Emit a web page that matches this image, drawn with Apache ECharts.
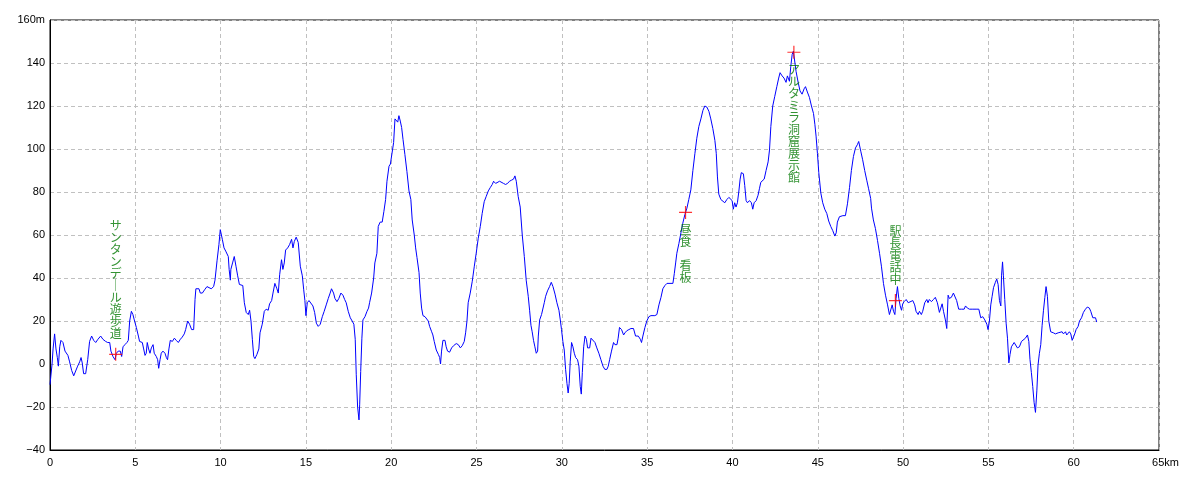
<!DOCTYPE html>
<html>
<head>
<meta charset="utf-8">
<script src="https://cdn.jsdelivr.net/npm/echarts@6/dist/echarts.min.js"></script>
<style>
html,body{margin:0;padding:0;background:#fff;}
#c{width:1200px;height:480px;}
</style>
</head>
<body>
<div id="c"></div>
<script>
// Elevation profile: [distance km, elevation m]
const profile = [
[0,-9.6],[0.12,0],[0.18,7],[0.27,14],[0.35,7],[0.43,3],[0.49,-1],[0.57,8],[0.64,11],[0.76,10],[0.88,6],[1.05,4],[1.15,1],[1.27,-3],[1.39,-5.5],[1.5,-5.5],[1.62,-1],[1.74,1],[1.82,3],[1.89,0.5],[1.97,-4.5],[2.09,-4.5],[2.21,2],[2.32,10.5],[2.44,13],[2.56,11],[2.68,10],[2.81,11.5],[2.97,13],[3.1,11.5],[3.26,10.5],[3.38,10],[3.5,10],[3.57,6],[3.69,3.5],[3.81,2],[3.89,5],[4.0,6],[4.12,6],[4.2,3.5],[4.28,8],[4.39,9],[4.51,10],[4.59,11],[4.67,20],[4.77,24.5],[4.86,23],[4.94,20.5],[5.06,17],[5.18,13],[5.25,10.5],[5.41,10],[5.49,7],[5.57,4],[5.64,5],[5.7,10],[5.78,7],[5.86,5],[5.94,7.5],[6.04,9],[6.11,5],[6.23,3.5],[6.31,2],[6.37,-2],[6.45,2],[6.52,5],[6.62,6],[6.74,5],[6.82,3],[6.89,2],[6.97,7],[7.05,11],[7.17,10.5],[7.29,12],[7.4,11],[7.52,10],[7.64,11.5],[7.75,12.5],[7.87,14],[7.95,16],[8.07,20],[8.18,18.5],[8.3,16],[8.42,16],[8.5,30],[8.55,35],
[8.73,35],[8.81,33],[8.93,33],[9.06,34.5],[9.2,36],[9.31,36],[9.45,35],[9.59,36],[9.67,39],[9.79,48],[9.9,55.5],[9.98,62.5],[10.04,62.5],[10.1,58],[10.2,54],[10.3,52.5],[10.45,50],[10.5,44],[10.57,39],[10.6,44],[10.7,47],[10.8,50],[10.9,45.5],[11.0,41],[11.1,37],[11.3,36.5],[11.39,28.5],[11.5,24],[11.62,23],[11.7,25],[11.78,20],[11.86,11.5],[11.94,3.5],[12.01,2.5],[12.13,4.5],[12.24,7],[12.31,14.5],[12.44,18.5],[12.56,24.5],[12.67,25.5],[12.79,25],[12.87,28],[12.99,29.5],[13.07,33],[13.18,37.5],[13.3,35],[13.38,33],[13.46,41.5],[13.57,48.5],[13.65,44],[13.73,47],[13.81,53],[13.93,54],[14.04,55.5],[14.16,58],[14.24,54],[14.32,57],[14.43,59],[14.55,56.5],[14.67,45.5],[14.79,41],[14.87,34.5],[14.94,29.5],[15.0,22.5],[15.08,28.5],[15.18,29.5],[15.29,30],[15.41,27],[15.51,24],[15.61,19],[15.72,17.5],[15.84,18.5],[15.96,22],[16.07,24.5],[16.19,27.5],[16.31,30.5],[16.42,33],[16.5,35],[16.62,33],[16.7,30.5],[16.82,29],[16.93,30.5],[17.05,33],[17.17,32],[17.27,30],[17.36,28.5],[17.48,24.5],[17.6,21.5],[17.71,20],[17.81,18.5],[17.89,11.5],[17.95,-5],[18.03,-20],[18.11,-26],[18.15,-19],[18.21,-3.5],[18.28,12],[18.34,20.5],[18.46,22],[18.58,24.5],[18.67,26],[18.73,28.5],
[18.85,33],[18.97,40],[19.04,47],[19.16,51.5],[19.24,64],[19.35,66],[19.47,66],[19.57,71],[19.67,76.5],[19.75,85],[19.87,92],[19.95,93],[20.06,93.5],[20.14,103],[20.22,114],[20.3,114.5],[20.38,112.5],[20.45,115.5],[20.53,113],[20.61,110],[20.69,104.5],[20.8,97.5],[20.92,89.5],[21.04,80.5],[21.15,76.5],[21.23,67],[21.35,60],[21.43,54],[21.51,49.5],[21.63,42.5],[21.7,33],[21.78,26],[21.86,22.5],[21.98,22],[22.09,22],[22.17,20],[22.25,17.5],[22.37,15],[22.44,13.5],[22.52,10.5],[22.64,6.5],[22.76,4.5],[22.84,3],[22.89,0],[22.95,6],[23.03,11],[23.15,11],[23.22,8],[23.3,6],[23.42,5.5],[23.54,7.5],[23.65,8.5],[23.81,9.5],[23.93,9],[24.05,7.5],[24.16,8.5],[24.28,10.5],[24.36,14.5],[24.44,20],[24.51,28.5],[24.63,33],[24.75,38.5],[24.87,45.5],[24.98,51.5],[25.1,58.5],[25.22,64],[25.33,70],[25.45,75.5],[25.57,78],[25.69,80.5],[25.8,82],[25.92,83.5],[26.0,85],[26.12,84],[26.23,84.5],[26.35,85],[26.46,85.5],[26.58,84],[26.7,83.5],[26.82,84],[26.93,85],[27.05,85.5],[27.17,86],[27.25,87.5],[27.33,85],[27.44,78],[27.56,73],[27.68,60],[27.8,50],[27.91,39],[28.03,31.5],[28.11,25],[28.19,18],[28.26,15],[28.34,11],[28.42,8],[28.5,5],[28.58,6],[28.62,13],[28.7,20.5],
[28.81,23],[28.89,23.5],[28.97,28.5],[29.05,31.5],[29.16,34],[29.28,36],[29.38,38],[29.48,36],[29.6,32.5],[29.71,28.5],[29.83,25],[29.91,20.5],[29.98,16],[30.06,10.5],[30.14,6.5],[30.22,-2.5],[30.3,-9],[30.37,-13.5],[30.43,-9],[30.49,1],[30.57,10],[30.65,8],[30.73,5],[30.81,3],[30.92,2],[31.0,-1],[31.08,-10.5],[31.14,-14],[31.2,-4],[31.28,8],[31.36,13],[31.44,11.5],[31.51,7.5],[31.63,7.5],[31.71,12],[31.82,12],[31.94,10],[32.05,7.5],[32.17,5],[32.29,2],[32.41,-1],[32.52,-2.5],[32.64,-2.5],[32.72,-1],[32.8,2],[32.91,6],[33.03,10],[33.11,9],[33.23,9],[33.3,12],[33.38,17],[33.5,16],[33.62,13.5],[33.7,14.5],[33.81,15.5],[33.93,16],[34.05,16.5],[34.2,16.5],[34.32,13],[34.48,13],[34.6,11.5],[34.67,10],[34.75,13],[34.87,17],[34.98,20],[35.1,22],[35.22,22.5],[35.45,22.5],[35.57,23],[35.69,27.5],[35.81,31],[35.92,35],[36.04,36.5],[36.16,37.5],[36.51,37.5],[36.59,42],[36.67,47],[36.74,51.5],[36.86,56],[36.98,61],[37.09,65.5],[37.21,69.5],[37.33,72.5],[37.44,76.5],[37.56,81],[37.68,90],[37.8,98],[37.91,105],[38.03,110.5],[38.15,114],[38.27,118],[38.38,120],[38.5,119.5],
[38.62,117.5],[38.73,114],[38.85,109.5],[38.97,104],[39.05,98],[39.12,87],[39.2,79],[39.32,76.5],[39.43,76],[39.55,75],[39.67,76.5],[39.79,77.5],[39.9,77.5],[39.98,76],[40.05,72],[40.13,75],[40.21,73],[40.29,75],[40.37,80],[40.45,86],[40.52,89],[40.64,88.5],[40.72,83],[40.8,76],[40.88,75],[41.0,76],[41.11,75],[41.19,72],[41.27,75],[41.39,76],[41.5,78.5],[41.58,81.5],[41.66,84.5],[41.74,84],[41.86,86],[41.97,90],[42.09,94],[42.17,99.5],[42.25,110.5],[42.36,120],[42.48,124.5],[42.6,129],[42.71,133],[42.79,135.5],[42.91,134],[43.02,133],[43.14,131],[43.22,134],[43.34,131.5],[43.42,138.5],[43.5,144],[43.57,145.5],[43.65,145],[43.73,136],[43.85,131],[43.96,127],[44.08,125.5],[44.2,128],[44.28,129],[44.39,126.5],[44.51,124],[44.63,120],[44.75,116.5],[44.83,111.5],[44.9,106],[44.98,98],[45.06,89],[45.18,79.5],[45.29,75],[45.41,72],[45.53,70],[45.64,66.5],[45.76,64],[45.88,62],[46.0,59.5],[46.08,61],[46.15,66],[46.27,68.5],[46.47,69],[46.62,69],[46.74,74.5],[46.86,82],[46.97,90],[47.09,96.5],[47.21,100.5],[47.32,102],[47.4,103.5],[47.52,99],[47.63,95],[47.75,90],[47.87,85.5],[47.98,81.5],[48.1,77],
[48.15,72.5],[48.26,67],[48.38,63],[48.5,57.5],[48.62,51.5],[48.73,45.5],[48.85,37.5],[48.97,32],[49.09,27.5],[49.2,23],[49.28,23],[49.36,27.5],[49.44,24.5],[49.52,23],[49.59,30.5],[49.67,36],[49.75,30.5],[49.83,27],[49.91,25],[49.98,28],[50.06,29],[50.18,30],[50.3,28.5],[50.41,29],[50.57,29.5],[50.68,27.5],[50.76,24.5],[50.88,23],[50.96,24.5],[51.07,23],[51.15,24.5],[51.27,28.5],[51.39,30],[51.46,28.5],[51.54,30],[51.66,29],[51.78,30],[51.89,31],[52.01,28.5],[52.13,24],[52.21,23.5],[52.29,28],[52.37,24.5],[52.48,20.5],[52.56,16.5],[52.64,32],[52.71,30.5],[52.83,31],[52.95,33],[53.03,33],[53.14,29.5],[53.26,25.5],[53.42,25.5],[53.58,25.5],[53.66,27],[53.77,26],[53.89,25.5],[54.09,25.5],[54.28,25.5],[54.44,25.5],[54.55,21.5],[54.67,22],[54.79,20.5],[54.91,18.5],[54.98,16],[55.06,20],[55.14,27.5],[55.22,31.5],[55.3,35.5],[55.41,38],[55.49,39.5],[55.57,37],[55.65,29.5],[55.73,27],[55.77,41],[55.83,47.5],[55.88,41],[55.96,30],[56.04,19],[56.12,12],[56.2,0.5],[56.27,4.5],[56.35,8],[56.43,8],[56.51,10],[56.62,10.5],[56.7,7.5],[56.82,8],[56.94,10.5],[57.05,10.5],[57.17,12],[57.29,13.5],[57.37,10.5],[57.44,2],[57.52,-4],[57.6,-10.5],[57.68,-18],[57.76,-22.5],[57.84,-12.5],[57.91,-0.5],[57.99,5],[58.07,9],[58.15,18],[58.23,25],[58.31,31],[58.38,36],[58.46,31.5],[58.54,20],
[58.65,15],[58.81,14.5],[58.93,14],[59.01,13.5],[59.09,14.5],[59.2,15],[59.32,15],[59.4,14],[59.52,15],[59.59,13.5],[59.67,13],[59.75,15],[59.83,14],[59.91,11],[59.99,10.5],[60.06,14],[60.14,16],[60.26,17.5],[60.34,20],[60.46,21.5],[60.57,24],[60.69,25.5],[60.8,26.5],[60.92,26],[61.0,24.5],[61.12,21.5],[61.2,22],[61.28,21.5],[61.35,19.5]
];

// Waypoints
const waypointNames = ['サンタンデール遊歩道', '昼食　看板', 'アルタミラ洞窟展示館', '駅長電話中'];
const waypointKm = [3.85, 37.25, 43.6, 49.55];
const waypointM = [4.5, 70.5, 145, 29.5];
const waypointLabelPos = ['top', 'bottom', 'bottom', 'top'];

// Axis ticks
const xTicks = [0, 5, 10, 15, 20, 25, 30, 35, 40, 45, 50, 55, 60, 65];
const yTicks = [-40, -20, 0, 20, 40, 60, 80, 100, 120, 140, 160];

function verticalText(s) {
  return s.split('').map(ch => ch === 'ー' ? '｜' : ch).join('\n');
}

const chart = echarts.init(document.getElementById('c'), null, { renderer: 'canvas' });
const axisFont = { fontFamily: 'Liberation Sans', fontSize: 11, color: '#000' };

chart.setOption({
  animation: false,
  backgroundColor: '#fff',
  grid: { left: 50, right: 41, top: 20, bottom: 30, show: true, borderColor: '#000', borderWidth: 1, backgroundColor: 'transparent' },
  xAxis: {
    type: 'value', min: xTicks[0], max: xTicks[xTicks.length - 1], interval: 5,
    axisLine: { show: true, onZero: false, lineStyle: { color: '#000', width: 1 } },
    axisTick: { show: false },
    axisLabel: Object.assign({}, axisFont, {
      margin: 7,
      formatter: v => v === 65 ? '{u|65km}' : String(v),
      rich: { u: Object.assign({}, axisFont, { padding: [0, 0, 0, 13] }) }
    }),
    splitLine: { show: true, lineStyle: { color: '#c0c0c0', type: [4, 3], width: 1 } }
  },
  yAxis: {
    type: 'value', min: yTicks[0], max: yTicks[yTicks.length - 1], interval: 20,
    axisLine: { show: true, onZero: false, lineStyle: { color: '#000', width: 1 } },
    axisTick: { show: false },
    axisLabel: Object.assign({}, axisFont, {
      margin: 5,
      formatter: v => v === 160 ? '160m' : (v < 0 ? '\u2212' + Math.abs(v) : String(v))
    }),
    splitLine: { show: true, lineStyle: { color: '#c0c0c0', type: [4, 3], width: 1 } }
  },
  series: [
    {
      type: 'line',
      data: profile,
      showSymbol: false,
      symbol: 'none',
      lineStyle: { color: '#0000ff', width: 1 },
      z: 2
    },
    {
      type: 'scatter',
      symbol: 'path://M0,6L12,6M6,0L6,12',
      symbolSize: 13,
      itemStyle: { color: 'rgba(0,0,0,0)', borderColor: '#ff0000', borderWidth: 1.2 },
      data: waypointNames.map((n, i) => ({
        name: n,
        value: [waypointKm[i], waypointM[i]],
        label: {
          show: true,
          position: waypointLabelPos[i],
          distance: waypointLabelPos[i] === 'top' ? 8 : 4,
          formatter: () => verticalText(n),
          fontFamily: 'Noto Sans CJK JP',
          fontSize: 12,
          lineHeight: 12,
          color: '#007800',
          align: 'center'
        }
      })),
      z: 3
    }
  ]
});
</script>
</body>
</html>
